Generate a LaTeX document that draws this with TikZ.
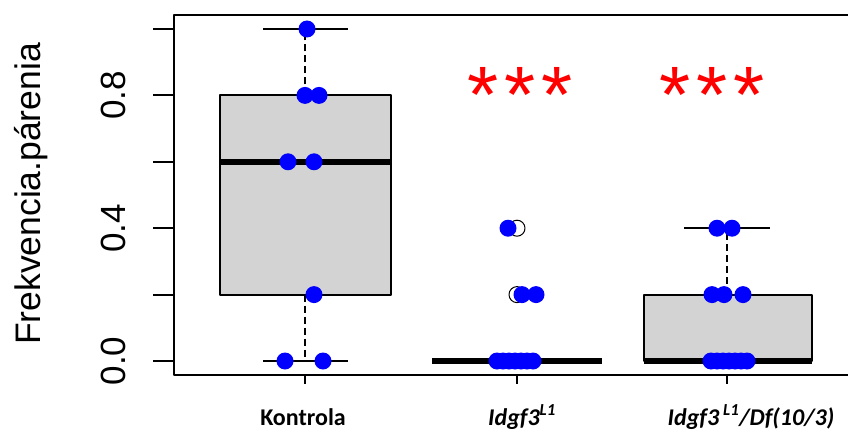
\documentclass[tikz,border=0pt]{standalone}
\usepackage{fontspec}
\setmainfont{Liberation Sans}
\newfontfamily\calibri{Carlito}
\definecolor{boxgray}{HTML}{D3D3D3}
\begin{document}
\begin{tikzpicture}[x=1pt, y=1pt, line width=2pt, line join=round,
	whisk/.style={dash pattern=on 7pt off 4pt},
	med/.style={line width=6pt, line cap=butt},
	dot/.style={fill=blue},
	grp/.style={anchor=base, font=\calibri\bfseries\fontsize{24}{24}\selectfont},
	sig/.style={anchor=base, text=red, font=\fontsize{80}{80}\selectfont}]
	\def\yo{71}\def\yu{332}
	\useasboundingbox (0,0) rectangle (848,432);
	% frame and axes
	\draw (848,417) -- (174,417) -- (174,57) -- (848,57);
	\foreach \v in {0,0.2,0.4,0.6,0.8,1} \draw (153,{\yo+\yu*\v}) -- (174,{\yo+\yu*\v});
	\foreach \v/\n in {0.0/a,0.4/b,0.8/c} \node[rotate=90, anchor=base, font=\fontsize{35}{35}\selectfont] (tick\n) at (125,{\yo+\yu*\v}) {\v};
	\foreach \x in {305,517,727} \draw (\x,57) -- (\x,48);
	\node[rotate=90, anchor=base, font=\fontsize{35.5}{36}\selectfont] (ylab) at (40,238) {Frekvencia.párenia};
	% Kontrola
	\filldraw[fill=boxgray] (220,{\yo+\yu*0.2}) rectangle (391,{\yo+\yu*0.8});
	\draw[med] (220,{\yo+\yu*0.6}) -- (391,{\yo+\yu*0.6});
	\draw[whisk] (305,{\yo+\yu*0.8}) -- (305,{\yo+\yu*1}) (305,{\yo+\yu*0.2}) -- (305,\yo);
	\draw (263,{\yo+\yu*1}) -- (348,{\yo+\yu*1}) (263,\yo) -- (348,\yo);
	% Idgf3 L1
	\draw[med] (432,\yo) -- (602,\yo);
	\draw[line width=1pt] (517,{\yo+\yu*0.4}) circle (8) (517,{\yo+\yu*0.2}) circle (8);
	% Idgf3 L1 / Df(10/3)
	\filldraw[fill=boxgray] (644,\yo) rectangle (812,{\yo+\yu*0.2});
	\draw[med] (644,\yo) -- (812,\yo);
	\draw[whisk] (727,{\yo+\yu*0.2}) -- (727,{\yo+\yu*0.4});
	\draw (684,{\yo+\yu*0.4}) -- (770,{\yo+\yu*0.4});
	% data points
	\foreach \x/\v in {307/1,305/0.8,319/0.8,288/0.6,314/0.6,314/0.2,285/0,323/0,
		508/0.4,522/0.2,536/0.2,717/0.4,732/0.4,712/0.2,724/0.2,743/0.2}
		\fill[dot] (\x,{\yo+\yu*\v}) circle (8.5);
	\foreach \x in {497,503,...,533} \fill[dot] (\x,\yo) circle (8.5);
	\foreach \x in {711,717,...,747} \fill[dot] (\x,\yo) circle (8.5);
	% significance
	\node[sig] (sig2) at (520,310) {*\kern6pt*\kern6pt*};
	\node[sig] (sig3) at (712,310) {*\kern6pt*\kern6pt*};
	% group labels
	\node[grp] (lbl1) at (303,7) {Kontrola};
	\node[grp] (lbl2) at (522,7) {\itshape Idgf3\textsuperscript{L1}};
	\node[grp] (lbl3) at (751,7) {\itshape Idgf3\,\textsuperscript{L1}/Df(10/3)};
\end{tikzpicture}
\end{document}
